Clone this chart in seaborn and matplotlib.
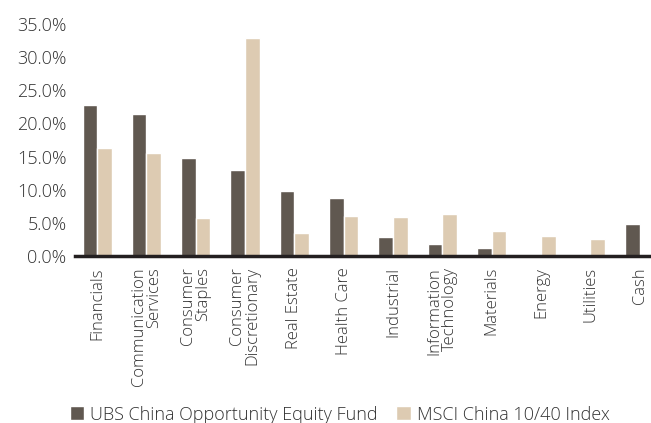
import matplotlib
matplotlib.use("Agg")
import matplotlib.pyplot as plt
import seaborn as sns
import pandas as pd
from matplotlib.ticker import FuncFormatter

categories = ["Financials", "Communication\nServices", "Consumer\nStaples", "Consumer\nDiscretionary",
              "Real Estate", "Health Care", "Industrial", "Information\nTechnology", "Materials",
              "Energy", "Utilities", "Cash"]
fund = [22.8, 21.4, 14.8, 13.0, 9.8, 8.7, 2.8, 1.8, 1.2, 0.0, 0.0, 4.8]
index = [16.3, 15.5, 5.7, 32.9, 3.5, 6.0, 5.9, 6.3, 3.7, 3.0, 2.6, 0.0]
series_names = ["UBS China Opportunity Equity Fund", "MSCI China 10/40 Index"]
yticks = [0, 5, 10, 15, 20, 25, 30, 35]

df = pd.DataFrame({
    "cat": categories * 2,
    "val": fund + index,
    "series": [series_names[0]] * len(categories) + [series_names[1]] * len(categories),
})

sns.set_theme(style="white")
plt.rcParams['font.family'] = ['Open Sans', 'DejaVu Sans']
plt.rcParams['font.weight'] = 'light'

fig = plt.figure(figsize=(6.51, 4.23), dpi=100)
ax = fig.add_axes([0.115, 0.395, 0.885, 0.548])
sns.barplot(data=df, x="cat", y="val", hue="series", order=categories,
            palette=["#605850", "#DDCBB2"], width=0.59, ax=ax, saturation=1, legend=True)
ax.set_ylim(0, 35)
ax.set_xlim(-0.45, 11.23)
ax.set_yticks(yticks)
ax.yaxis.set_major_formatter(FuncFormatter(lambda v, p: f"{v:.1f}%"))
ax.tick_params(axis='y', length=0, labelsize=13, colors="#333333", pad=6)
ax.tick_params(axis='x', length=0, labelsize=12, colors="#333333", pad=8)
ax.set_xlabel("")
ax.set_ylabel("")
for s in ["top", "right", "left"]:
    ax.spines[s].set_visible(False)
ax.spines["bottom"].set_color("#231F20")
ax.spines["bottom"].set_linewidth(2.5)
for lbl in ax.get_xticklabels() + ax.get_yticklabels():
    lbl.set_fontweight("light")
for lbl in ax.get_xticklabels():
    lbl.set_rotation(90)
    lbl.set_ha("center")
    lbl.set_va("top")
    lbl.set_multialignment("right")
    lbl.set_linespacing(0.95)

h, l = ax.get_legend_handles_labels()
ax.legend_.remove()
leg = fig.legend(h, l, loc="lower left", bbox_to_anchor=(0.082, -0.04), ncol=2, frameon=False,
                 fontsize=13, handlelength=0.8, handleheight=0.8, handletextpad=0.35, columnspacing=1.0,
                 labelcolor="#333333")
for t in leg.get_texts():
    t.set_fontweight("light")
fig.savefig("out.png", dpi=100)
